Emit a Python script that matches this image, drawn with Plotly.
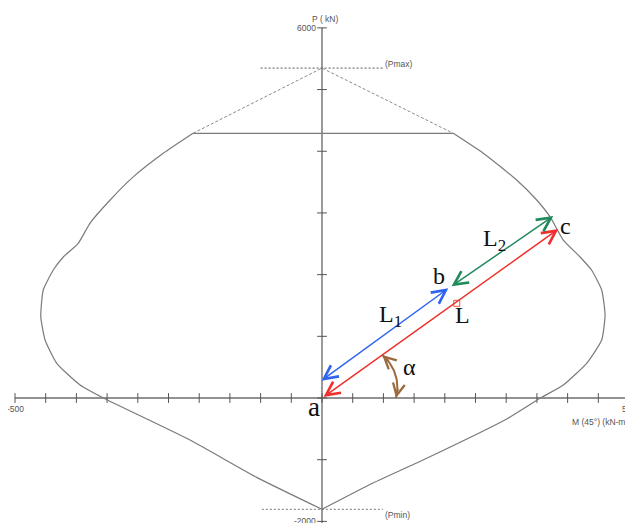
import math
import plotly.graph_objects as go

# ---------------- data ----------------
# interaction curve (M in kN-m, P in kN)
right_m = [213.8, 262.7, 317, 349.7, 371.3, 393, 420, 439, 455.5, 461, 455.5,
           431, 393, 355, 300.8, 164.5, 83, 0]
right_p = [4291, 3967, 3534, 3210, 2939, 2561, 2290, 2075, 1751, 1345, 940,
           562, 211, -5, -340, -1005, -1378, -1804]
left_m = [0, -106.4, -215, -356, -394, -432, -451, -458, -454, -437.6, -421,
          -397, -378, -345, -307, -258.5, -210]
left_p = [-1804, -1286, -681, 0, 211, 562, 940, 1318, 1751, 2075, 2290,
          2508, 2832, 3210, 3588, 3967, 4291]
top_m = [-210, 213.8]
top_p = [4291, 4291]

# dashed cap towards Pmax
cap_m = [-210, 0, 213.8]
cap_p = [4291, 5348, 4291]

pmax_value = 5348
pmin_value = -1804
pmax_line_m = [-100, 99]
pmin_line_m = [-98, 99]

x_ticks = [-500, -450, -400, -350, -300, -250, -200, -150, -100, -50, 0,
           50, 100, 150, 200, 250, 300, 350, 400, 450, 500]
y_ticks = [-2000, -1000, 0, 1000, 2000, 3000, 4000, 5000, 6000]

# vectors  (tail -> head)
point_a = (0, 0)
point_c = (385, 2739)
blue_tail = (-3.3, 264)
blue_head = (205.7, 1778)
green_tail = (208.5, 1794)
green_head = (376.7, 2950)
point_L = (219.4, 1535)

# angle alpha
alpha_deg = 35.6
arc_radius_px = 74
arc_bend_radius_px = 42

# text labels (M, P)
labels = [
    ("a", -13, -150, 27),
    ("b", 190.6, 1985, 24),
    ("c", 397, 2788, 24),
    ("L<sub>1</sub>", 112, 1335, 24),
    ("L<sub>2</sub>", 281, 2566, 24),
    ("L", 228, 1345, 24),
    ("α", 143, 502, 24),
]

# ---------------- figure ----------------
# the page adds an 8px margin, so the figure covers page pixels 8..633 / 8..523
X_RANGE = [-511.4, 506.5]
Y_RANGE = [-2026, 6322]
W, H = 625, 515
px_per_x = W / (X_RANGE[1] - X_RANGE[0])
px_per_y = H / (Y_RANGE[1] - Y_RANGE[0])

fig = go.Figure()

AX_GRAY = "#9a9a9a"
CURVE = "#7a7a7a"

# axes lines
fig.add_trace(go.Scatter(x=[0, 0], y=[Y_RANGE[0], y_ticks[-1]], mode="lines",
                         line=dict(color=AX_GRAY, width=2), hoverinfo="skip"))
fig.add_trace(go.Scatter(x=[x_ticks[0], x_ticks[-1]], y=[0, 0], mode="lines",
                         line=dict(color="#6e6e6e", width=1.3), hoverinfo="skip"))
# ticks
fig.add_trace(go.Scatter(x=x_ticks, y=[0] * len(x_ticks), mode="markers",
                         marker=dict(symbol="line-ns", size=7,
                                     line=dict(color="#555", width=1)),
                         hoverinfo="skip"))
fig.add_trace(go.Scatter(x=[0] * len(y_ticks), y=y_ticks, mode="markers",
                         marker=dict(symbol="line-ew", size=7,
                                     line=dict(color="#555", width=1)),
                         hoverinfo="skip"))

# curve
for cm, cp, shape in ((right_m, right_p, "spline"), (left_m, left_p, "spline"),
                      (top_m, top_p, "linear")):
    fig.add_trace(go.Scatter(x=cm, y=cp, mode="lines",
                             line=dict(color=CURVE, width=1.2, shape=shape, smoothing=0.5),
                             hoverinfo="skip"))
fig.add_trace(go.Scatter(x=cap_m, y=cap_p, mode="lines",
                         line=dict(color="#8a8a8a", width=1, dash="3px,2px"),
                         hoverinfo="skip"))
fig.add_trace(go.Scatter(x=pmax_line_m, y=[pmax_value] * 2, mode="lines",
                         line=dict(color="#555", width=1, dash="2px,2px"),
                         hoverinfo="skip"))
fig.add_trace(go.Scatter(x=pmin_line_m, y=[pmin_value] * 2, mode="lines",
                         line=dict(color="#777", width=1, dash="2px,2px"),
                         hoverinfo="skip"))

# arc for alpha: circular arc (in screen pixels) between the two end points
t = math.radians(alpha_deg)
e0 = (arc_radius_px, 0.0)
e1 = (arc_radius_px * math.cos(t), arc_radius_px * math.sin(t))
mx, my = (e0[0] + e1[0]) / 2, (e0[1] + e1[1]) / 2
half = math.hypot(e1[0] - e0[0], e1[1] - e0[1]) / 2
d = math.sqrt(arc_bend_radius_px ** 2 - half ** 2)
ux, uy = mx / math.hypot(mx, my), my / math.hypot(mx, my)
cx, cy = mx - ux * d, my - uy * d
a0 = math.atan2(e0[1] - cy, e0[0] - cx)
a1 = math.atan2(e1[1] - cy, e1[0] - cx)
n = 40
arc_px = [(cx + arc_bend_radius_px * math.cos(a0 + (a1 - a0) * i / n),
           cy + arc_bend_radius_px * math.sin(a0 + (a1 - a0) * i / n)) for i in range(n + 1)]
arc_m = [p[0] / px_per_x for p in arc_px]
arc_p = [p[1] / px_per_y for p in arc_px]
BROWN = "#9b6b3e"
fig.add_trace(go.Scatter(x=arc_m, y=arc_p, mode="lines",
                         line=dict(color=BROWN, width=2), hoverinfo="skip"))

# L marker
fig.add_trace(go.Scatter(x=[point_L[0]], y=[point_L[1]], mode="markers",
                         marker=dict(symbol="square-open", size=6,
                                     line=dict(color="#d86060", width=1)),
                         hoverinfo="skip"))


def vec(tail, head, color):
    fig.add_annotation(x=head[0], y=head[1], ax=tail[0], ay=tail[1],
                       xref="x", yref="y", axref="x", ayref="y", text="",
                       showarrow=True, arrowhead=5, startarrowhead=5,
                       arrowside="end+start", arrowsize=1.8, startarrowsize=1.8,
                       arrowwidth=1.5, arrowcolor=color, standoff=0, startstandoff=0)


vec(point_a, point_c, "#f0302c")
vec(blue_tail, blue_head, "#2e64f0")
vec(green_tail, green_head, "#1f8a5c")


# arc arrowheads, oriented along the arc tangent at each end
def arc_head(i_end, i_prev):
    hx, hy = arc_px[i_end]
    px_, py_ = arc_px[i_prev]
    dx, dy = px_ - hx, py_ - hy
    L = math.hypot(dx, dy)
    fig.add_annotation(x=arc_m[i_end], y=arc_p[i_end], xref="x", yref="y", text="",
                       showarrow=True, arrowhead=5, arrowsize=1.3, arrowwidth=1.8,
                       arrowcolor=BROWN, ax=11 * dx / L, ay=-11 * dy / L, standoff=0)


arc_head(0, 4)
arc_head(n, n - 4)

SERIF = "Liberation Serif, Times New Roman, serif"
for txt, m, p, sz in labels:
    fig.add_annotation(x=m, y=p, xref="x", yref="y", text=txt, showarrow=False,
                       font=dict(family=SERIF, size=sz, color="#111"))

SMALL = dict(family="Liberation Sans, Arial, sans-serif", size=8.5, color="#555")
fig.add_annotation(x=5, y=6144, text="P ( kN)", showarrow=False, font=SMALL)
fig.add_annotation(x=-6, y=6000, text="6000", showarrow=False, font=SMALL, xanchor="right")
fig.add_annotation(x=-6, y=-2000, text="-2000", showarrow=False, font=SMALL, xanchor="right")
fig.add_annotation(x=-500, y=-170, text="-500", showarrow=False, font=SMALL)
fig.add_annotation(x=500, y=-170, text="500", showarrow=False, font=SMALL)
fig.add_annotation(x=502, y=-390, text="M (45°) (kN-m)", showarrow=False, font=SMALL,
                   xanchor="right")
fig.add_annotation(x=100, y=pmax_value + 70, text="(Pmax)", showarrow=False, font=SMALL,
                   xanchor="left")
fig.add_annotation(x=100, y=pmin_value - 95, text="(Pmin)", showarrow=False, font=SMALL,
                   xanchor="left")

fig.update_layout(
    width=W, height=H, margin=dict(l=0, r=0, t=0, b=0),
    paper_bgcolor="white", plot_bgcolor="white", showlegend=False,
    xaxis=dict(range=X_RANGE, visible=False, fixedrange=True),
    yaxis=dict(range=Y_RANGE, visible=False, fixedrange=True),
)
fig.write_html("out.html")
